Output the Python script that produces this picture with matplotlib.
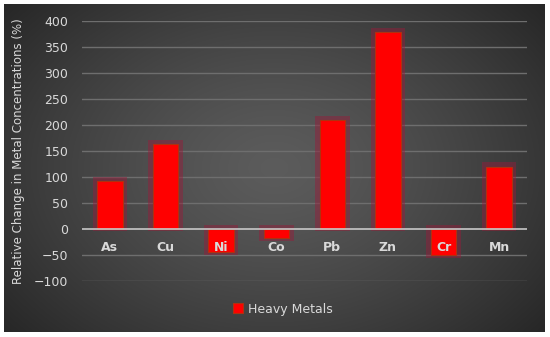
import numpy as np
import matplotlib.pyplot as plt
from matplotlib.patches import Rectangle

# data
metals = ['As', 'Cu', 'Ni', 'Co', 'Pb', 'Zn', 'Cr', 'Mn']
change = [92, 164, -44, -17, 210, 378, -50, 120]
yticks = [-100, -50, 0, 50, 100, 150, 200, 250, 300, 350, 400]

W, H = 550, 337
fig = plt.figure(figsize=(W / 100, H / 100), dpi=100)
fig.patch.set_facecolor('white')

# dark panel with a radial gradient
bg = fig.add_axes([4 / W, 1 - 332 / H, 541 / W, 328 / H])
bg.set_axis_off()
gx, gy = np.meshgrid(np.linspace(-1, 1, 400), np.linspace(-1, 1, 250))
r = np.sqrt((gx * 0.95) ** 2 + (gy * 0.8) ** 2)
r = np.clip(r / 1.25, 0, 1)
shade = 0.36 - 0.21 * r ** 1.3
img = np.dstack([shade, shade, shade])
bg.imshow(img, aspect='auto', extent=[0, 1, 0, 1], interpolation='bilinear')

ax = fig.add_axes([82 / W, 1 - 281 / H, 445 / W, 260 / H])
ax.set_facecolor('none')
ax.set_xlim(-0.5, len(metals) - 0.5)
ax.set_ylim(-100, 400)

for yv in yticks:
    if yv == 0:
        continue
    ax.axhline(yv, color='#6e6e6e', lw=1.0, zorder=1)

x = np.arange(len(metals))
# soft glow behind the bars
for xi, v in zip(x, change):
    top = max(v, 0) + 8
    bot = min(v, 0) - 6 if v < 0 else -3
    ax.add_patch(Rectangle((xi - 0.31, bot), 0.62, top - bot, color='#9a1a3a',
                           alpha=0.45, lw=0, zorder=2))
ax.bar(x, change, width=0.46, color='#ff0000', edgecolor='#b03010', lw=0.8,
       zorder=3, label='Heavy Metals')
ax.axhline(0, color='#c8c8c8', lw=1.2, zorder=4)

for xi, name in zip(x, metals):
    ax.text(xi, -35, name, ha='center', va='center', color='#d9d9d9',
            fontsize=9, fontweight='bold', zorder=5)

ax.set_xticks([])
ax.set_yticks(yticks)
ax.set_yticklabels([str(t).replace('-', '\u2212') for t in yticks],
                   color='#d9d9d9', fontsize=9)
ax.tick_params(axis='y', length=0, pad=10)
for s in ax.spines.values():
    s.set_visible(False)

ax.set_ylabel('Relative Change in Metal Concentrations (%)', color='#d9d9d9',
              fontsize=8.5, labelpad=6)

leg = fig.legend(loc='center', bbox_to_anchor=(283 / W, 1 - 309 / H),
                 frameon=False, fontsize=9, handlelength=0.8, handleheight=0.8,
                 handletextpad=0.4)
for t in leg.get_texts():
    t.set_color('#d9d9d9')

fig.savefig('out.png', dpi=100, facecolor=fig.get_facecolor())
